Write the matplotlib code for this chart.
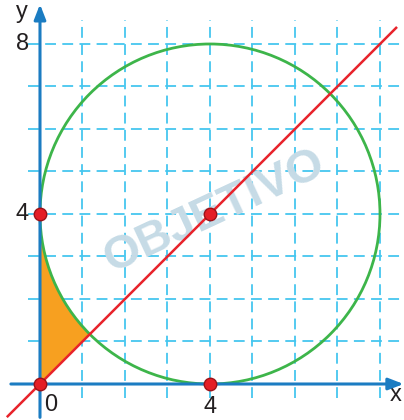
import numpy as np
import matplotlib.pyplot as plt
from matplotlib.patches import Circle, Polygon

plt.rcParams['font.family'] = ['Liberation Sans', 'DejaVu Sans']

# data
center = (4, 4)
radius = 4
points_x = [0, 0, 4, 4]
points_y = [0, 4, 4, 0]
grid_vals = [1, 2, 3, 4, 5, 6, 7, 8]

fig = plt.figure(figsize=(4.04, 4.20), dpi=100)
ax = fig.add_axes([0, 0, 1, 1])
ax.set_xlim(-0.941, 8.565)
ax.set_ylim(-0.847, 9.035)
ax.axis('off')

blue = '#1b7cc2'
cyan = '#45c6ef'

# grid
for g in grid_vals:
    ax.plot([g, g], [-0.33, 8.56], color=cyan, lw=1.3, dashes=(6, 3.5), zorder=1)
    ax.plot([-0.28, 8.6], [g, g], color=cyan, lw=1.3, dashes=(6, 3.5), zorder=1)

# watermark
ax.text(4.1, 4.05, 'OBJETIVO', rotation=25, fontsize=34, fontweight='bold',
        color='#c6dbe6', ha='center', va='center', zorder=1.5)

# orange region: y-axis, circle arc, line y=x
a = 4 - 2 * np.sqrt(2)
t = np.linspace(np.pi, np.pi + np.pi / 4, 60)
arc_x = center[0] + radius * np.cos(t)
arc_y = center[1] + radius * np.sin(t)
verts = [(0, 0)] + list(zip(arc_x, arc_y)) + [(a, a)]
ax.add_patch(Polygon(verts, closed=True, facecolor='#f7a020', edgecolor='none', zorder=2))

# circle
ax.add_patch(Circle(center, radius, fill=False, edgecolor='#3db54a', lw=2, zorder=3))

# line y = x
ax.plot([-0.76, 8.38], [-0.76, 8.38], color='#e8232b', lw=1.8, zorder=4)

# axes
ax.annotate('', xy=(0, 9.0), xytext=(0, -0.85), annotation_clip=False,
            arrowprops=dict(arrowstyle='-|>,head_length=0.9,head_width=0.35', color=blue, lw=2.2), zorder=5)
ax.annotate('', xy=(8.62, 0), xytext=(-0.75, 0), annotation_clip=False,
            arrowprops=dict(arrowstyle='-|>,head_length=0.9,head_width=0.35', color=blue, lw=2.2), zorder=5)

# points
ax.plot(points_x, points_y, 'o', color='#e41e26', mec='#9b1218', mew=1, ms=9, zorder=6)

# labels
txt = dict(fontsize=17, ha='center', va='center', color='#231f20')
ax.text(-0.42, 8.0, '8', **txt)
ax.text(-0.42, 4.0, '4', **txt)
ax.text(-0.42, 8.75, 'y', **txt)
ax.text(0.25, -0.5, '0', **txt)
ax.text(4.0, -0.55, '4', **txt)
ax.text(8.38, -0.25, 'x', **txt)

plt.savefig('out.png', dpi=100)
